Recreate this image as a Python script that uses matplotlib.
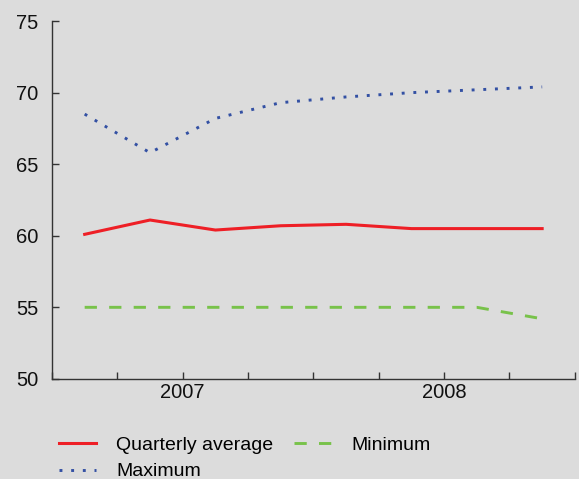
import numpy as np
import matplotlib
matplotlib.use("Agg")
from matplotlib import pyplot as plt
from matplotlib import transforms

# quarters Q1 2007 .. Q4 2008
quarters = ["Q1 2007", "Q2 2007", "Q3 2007", "Q4 2007",
            "Q1 2008", "Q2 2008", "Q3 2008", "Q4 2008"]
quarterly_average = [60.1, 61.1, 60.4, 60.7, 60.8, 60.5, 60.5, 60.5]
maximum = [68.5, 65.8, 68.2, 69.3, 69.7, 70.0, 70.2, 70.4]
minimum = [55.0, 55.0, 55.0, 55.0, 55.0, 55.0, 55.0, 54.2]
years = ["2007", "2008"]
y_ticks = [50, 55, 60, 65, 70, 75]

plt.rcParams['font.family'] = ['Liberation Sans', 'DejaVu Sans']
bg = '#dcdcdc'

fig = plt.figure(figsize=(5.79, 4.79), dpi=100, facecolor=bg)
ax = fig.add_axes([0.0898, 0.209, 0.903, 0.747], facecolor=bg)

x = np.arange(len(quarters)) + 0.5
l_avg, = ax.plot(x, quarterly_average, color='#ee1f26', lw=2.2,
                 label='Quarterly average')
l_max, = ax.plot(x, maximum, color='#3350a3', lw=2.1,
                 linestyle=(0, (1, 3)), label='Maximum')
l_min, = ax.plot(x, minimum, color='#78c24a', lw=2.1,
                 linestyle=(0, (4.2, 4.2)), label='Minimum')

ax.set_xlim(0, len(quarters))
ax.set_ylim(50, 75)
ax.set_yticks(y_ticks)
ax.set_xticks(np.arange(len(quarters) + 1))
ax.set_xticklabels([])

# year labels centred under each group of four quarters
trans = transforms.blended_transform_factory(ax.transData, ax.transAxes)
for i, yr in enumerate(years):
    ax.text(2 + 4 * i, -0.012, yr, transform=trans, ha='center', va='top',
            fontsize=14.5, color='#111111')

ax.tick_params(axis='x', direction='in', length=5, width=1, color='#333333')
ax.tick_params(axis='y', direction='in', length=5, width=1, color='#333333',
               labelsize=14.5, pad=10, labelcolor='#111111')

for s in ['top', 'right']:
    ax.spines[s].set_visible(False)
for s in ['left', 'bottom']:
    ax.spines[s].set_color('#333333')
    ax.spines[s].set_linewidth(1)

fig.legend(handles=[l_avg, l_max, l_min], loc='upper left',
           bbox_to_anchor=(0.102, 0.090), ncol=2, frameon=False,
           fontsize=14, handlelength=1.9, handletextpad=1.05,
           columnspacing=1.04, labelspacing=0.48, borderpad=0,
           borderaxespad=0)

fig.savefig('out.png', dpi=100, facecolor=bg)
